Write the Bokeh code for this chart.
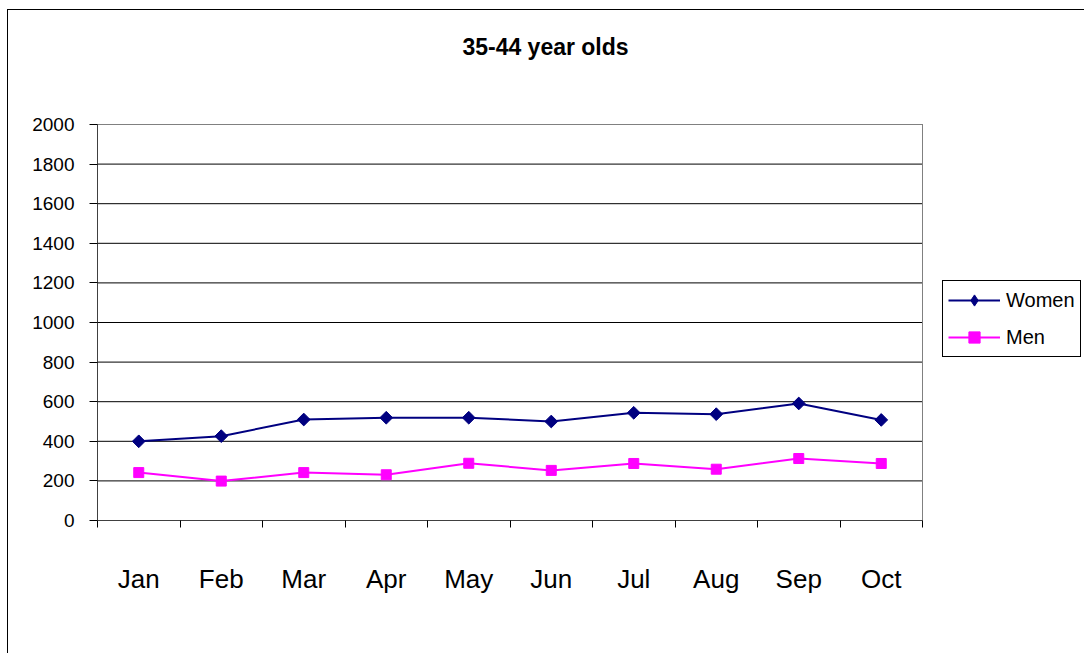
import math
from bokeh.plotting import figure
from bokeh.models import (FixedTicker, Range1d, Legend, LegendItem, InlineStyleSheet, Label)
from bokeh.embed import file_html
from bokeh.resources import INLINE

title_text = "35-44 year olds"
months = ["Jan", "Feb", "Mar", "Apr", "May", "Jun", "Jul", "Aug", "Sep", "Oct"]
women = [400, 426, 510, 519, 519, 500, 544, 537, 591, 508]
men = [242, 199, 242, 231, 289, 253, 288, 259, 313, 288]
y_ticks = list(range(0, 2001, 200))
y_min, y_max = 0, 2000

FONT = "Liberation Sans"

# Layout geometry (pixels): plot area spans x 97..922, y 124..520 of the canvas.
W, H = 1084, 653
PA_LEFT, PA_RIGHT, PA_TOP, PA_BOTTOM = 97, 922, 124, 520

n = len(months)
x_lo, x_hi = 0.5, n + 0.5
px_per_x = (PA_RIGHT - PA_LEFT) / (x_hi - x_lo)
px_per_y = (PA_BOTTOM - PA_TOP) / (y_max - y_min)
x_end = x_hi + (W - PA_RIGHT) / px_per_x
y_end = y_max + PA_TOP / px_per_y

p = figure(width=W, height=H, output_backend="svg", toolbar_location=None,
           x_range=Range1d(x_lo, x_end), y_range=Range1d(y_min, y_end),
           min_border_left=PA_LEFT, min_border_right=0, min_border_top=0,
           min_border_bottom=H - PA_BOTTOM)
p.background_fill_color = "white"
p.border_fill_color = "white"
p.outline_line_color = None

xs = list(range(1, n + 1))

# horizontal grid lines inside the plot area
p.segment(x0=[x_lo] * len(y_ticks), x1=[x_hi] * len(y_ticks), y0=y_ticks, y1=y_ticks,
          line_color="#000000", line_width=1)
# plot-area border
p.quad(left=[x_lo], right=[x_hi], bottom=[y_min], top=[y_max],
       fill_color=None, line_color="#808080", line_width=1)

lw = p.line(xs, women, line_color="#000080", line_width=2)
# diamond glyph (used for the legend; hidden under the rotated squares in the plot)
dw = p.scatter(xs, women, marker="diamond", size=11, fill_color="#000080", line_color="#000080")
sw = p.scatter(xs, women, marker="square", angle=math.pi / 4, size=9,
               fill_color="#000080", line_color="#000080")
lm = p.line(xs, men, line_color="#FF00FF", line_width=2)
sm = p.scatter(xs, men, marker="square", size=10,
               fill_color="#FF00FF", line_color="#FF00FF")

# x axis: labels at category centers, tick marks between categories
p.xaxis.bounds = (x_lo, x_hi)
p.xaxis.ticker = FixedTicker(ticks=xs, minor_ticks=[x + 0.5 for x in range(0, n + 1)])
p.xaxis.major_label_overrides = {x: m for x, m in zip(xs, months)}
p.xaxis.major_tick_in = 0
p.xaxis.major_tick_out = 7
p.xaxis.major_tick_line_color = None
p.xaxis.minor_tick_in = 0
p.xaxis.minor_tick_out = 7
p.xaxis.minor_tick_line_color = "#000000"
p.xaxis.axis_line_color = "#404040"
p.xaxis.major_label_standoff = 36
p.xaxis.major_label_text_font = FONT
p.xaxis.major_label_text_font_size = "26px"
p.xaxis.major_label_text_color = "#000000"

p.yaxis.bounds = (y_min, y_max)
p.yaxis.ticker = FixedTicker(ticks=y_ticks)
p.yaxis.minor_tick_line_color = None
p.yaxis.major_tick_in = 0
p.yaxis.major_tick_out = 8
p.yaxis.major_tick_line_color = "#000000"
p.yaxis.axis_line_color = "#404040"
p.yaxis.major_label_standoff = 15
p.yaxis.major_label_text_font = FONT
p.yaxis.major_label_text_font_size = "19px"
p.yaxis.major_label_text_color = "#000000"

p.xgrid.grid_line_color = None
p.ygrid.grid_line_color = None

# chart title
p.add_layout(Label(x=545 - PA_LEFT, y=PA_BOTTOM - 46, x_units="screen", y_units="screen",
                   text=title_text, text_font=FONT, text_font_size="23px",
                   text_font_style="bold", text_align="center", text_baseline="middle",
                   text_color="#000000"))

legend = Legend(items=[LegendItem(label="Women", renderers=[lw, dw]),
                       LegendItem(label="Men", renderers=[lm, sm])],
                location=(942 - PA_LEFT, PA_BOTTOM - 357), orientation="vertical",
                label_text_font=FONT, label_text_font_size="20px",
                label_text_color="#000000",
                glyph_width=52, glyph_height=28, label_standoff=6, spacing=9,
                padding=5, margin=0, border_line_color="#000000",
                border_line_alpha=1.0, border_line_width=1,
                background_fill_color="white", background_fill_alpha=1.0)
p.add_layout(legend, "center")

# outer chart border (the chart continues beyond the right and bottom edges)
p.stylesheets = [InlineStyleSheet(css=(
    ":host { position: relative; overflow: hidden; }"
    ":host::after { content: ''; position: absolute; left: 7px; top: 9px;"
    " width: 1200px; height: 800px; border: 1px solid #000000;"
    " pointer-events: none; box-sizing: border-box; z-index: 10; }"))]

open("out.html", "w").write(file_html(p, INLINE))
